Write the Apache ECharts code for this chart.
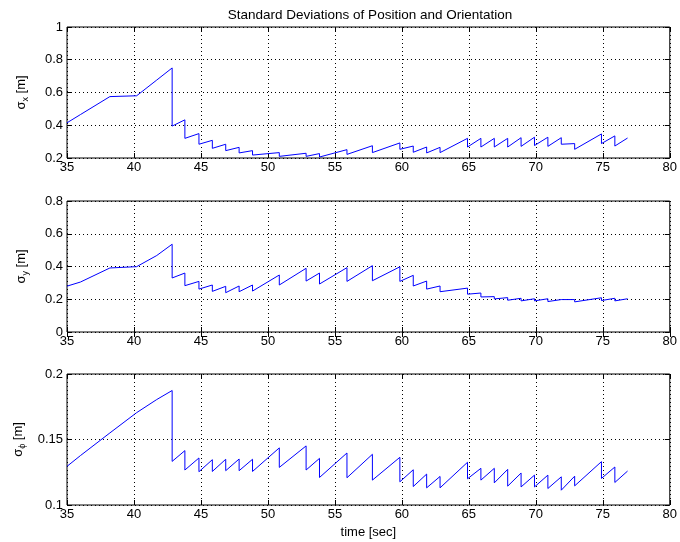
<!DOCTYPE html>
<html>
<head>
<meta charset="utf-8">
<script src="https://cdn.jsdelivr.net/npm/echarts@6/dist/echarts.min.js"></script>
<style>
  html, body { margin: 0; padding: 0; background: #fff; }
  #chart { width: 680px; height: 542px; }
</style>
</head>
<body>
<div id="chart"></div>
<script>
// shared time stamps (duplicated where the filter resets -> vertical drop)
const time = [35, 36, 38.2, 40.2, 41.7,
  42.85, 42.85, 43.8, 43.8, 44.85, 44.85, 45.85, 45.85, 46.85, 46.85,
  47.85, 47.85, 48.85, 48.85, 50.85, 50.85, 52.85, 52.85, 53.85, 53.85,
  55.9, 55.9, 57.8, 57.8, 59.85, 59.85, 60.85, 60.85, 61.85, 61.85,
  62.85, 62.85, 64.9, 64.9, 65.9, 65.9, 66.9, 66.9, 67.9, 67.9,
  68.9, 68.9, 69.9, 69.9, 70.9, 70.9, 71.9, 71.9, 72.9, 72.9,
  74.9, 74.9, 75.9, 75.9, 76.85]

const sigmaX = [0.415, 0.465, 0.575, 0.58, 0.676,
  0.75, 0.395, 0.433, 0.32, 0.349, 0.284, 0.308, 0.259, 0.284, 0.245,
  0.265, 0.231, 0.245, 0.218, 0.233, 0.21, 0.229, 0.21, 0.227, 0.206,
  0.251, 0.222, 0.275, 0.233, 0.292, 0.253, 0.273, 0.235, 0.267, 0.231,
  0.265, 0.233, 0.32, 0.267, 0.32, 0.267, 0.32, 0.267, 0.32, 0.267,
  0.324, 0.271, 0.327, 0.276, 0.327, 0.271, 0.324, 0.284, 0.288, 0.253,
  0.347, 0.288, 0.335, 0.273, 0.322]

const sigmaY = [0.28, 0.305, 0.391, 0.399, 0.467,
  0.536, 0.330, 0.360, 0.283, 0.309, 0.262, 0.287, 0.248, 0.279, 0.240,
  0.281, 0.246, 0.287, 0.250, 0.348, 0.287, 0.389, 0.311, 0.360, 0.293,
  0.393, 0.309, 0.405, 0.313, 0.398, 0.309, 0.346, 0.281, 0.311, 0.262,
  0.281, 0.246, 0.268, 0.231, 0.238, 0.214, 0.216, 0.202, 0.210, 0.194,
  0.206, 0.190, 0.203, 0.190, 0.203, 0.186, 0.198, 0.186, 0.198, 0.184,
  0.209, 0.192, 0.206, 0.190, 0.203]

const sigmaPhi = [0.1295, 0.1377, 0.155, 0.1705, 0.1805,
  0.1874, 0.1333, 0.1415, 0.1267, 0.1359, 0.1254, 0.1346, 0.1256, 0.1349, 0.1262,
  0.1351, 0.1262, 0.1349, 0.1256, 0.1436, 0.1287, 0.1451, 0.1267, 0.1356, 0.1210,
  0.1397, 0.1208, 0.1387, 0.119, 0.1364, 0.1177, 0.1269, 0.1141, 0.1236, 0.1131,
  0.1218, 0.1131, 0.1326, 0.120, 0.128, 0.119, 0.128, 0.1169, 0.1272, 0.1144,
  0.1244, 0.1138, 0.1228, 0.1138, 0.1228, 0.1126, 0.1215, 0.1113, 0.122, 0.1146,
  0.1331, 0.1203, 0.129, 0.1172, 0.1259]

const xTicks = {min: 35, max: 80, interval: 5}
const yRanges = [
  {min: 0.2, max: 1, interval: 0.2},
  {min: 0, max: 0.8, interval: 0.2},
  {min: 0.1, max: 0.2, interval: 0.05}
]
const yNames = ['{a|σ}{s|x}{a| [m]}', '{a|σ}{s|y}{a| [m]}', '{a|σ}{s|ϕ}{a| [m]}']
const seriesData = [sigmaX, sigmaY, sigmaPhi]

const font = 'Liberation Sans, Arial, Helvetica, sans-serif'
const tops = [27, 201, 374]

const grids = tops.map(t => ({
  left: 67, width: 605, top: t, height: 131,
  show: true, borderColor: '#000', borderWidth: 1, backgroundColor: 'transparent'
}))

const xAxes = []
const yAxes = []
const series = []
for (let i = 0; i < 3; i++) {
  xAxes.push({
    type: 'value', gridIndex: i, ...xTicks,
    name: i === 2 ? 'time [sec]' : '',
    nameLocation: 'middle', nameGap: 21,
    nameTextStyle: {color: '#000', fontSize: 13, fontFamily: font},
    axisLine: {show: false},
    axisTick: {show: true, inside: true, length: 5, lineStyle: {color: '#000'}},
    axisLabel: {color: '#000', fontSize: 13, fontFamily: font, margin: 3},
    splitLine: {show: true, lineStyle: {color: '#000', type: [1, 3], width: 1}}
  })
  xAxes.push({
    type: 'value', gridIndex: i, ...xTicks, position: 'top',
    axisLine: {show: false},
    axisTick: {show: true, inside: true, length: 5, lineStyle: {color: '#000'}},
    axisLabel: {show: false}, splitLine: {show: false}
  })
  yAxes.push({
    type: 'value', gridIndex: i, ...yRanges[i],
    name: yNames[i], nameLocation: 'middle', nameGap: 37, nameRotate: 90,
    nameTextStyle: {
      color: '#000', fontFamily: font,
      rich: {
        a: {fontSize: 13, fontFamily: font, color: '#000'},
        s: {fontSize: 9, fontFamily: font, color: '#000', padding: [8, 0, 0, 0]}
      }
    },
    axisLine: {show: false},
    axisTick: {show: true, inside: true, length: 5, lineStyle: {color: '#000'}},
    axisLabel: {color: '#000', fontSize: 13, fontFamily: font, margin: 4},
    splitLine: {show: true, lineStyle: {color: '#000', type: [1, 3], width: 1}}
  })
  yAxes.push({
    type: 'value', gridIndex: i, ...yRanges[i], position: 'right',
    axisLine: {show: false},
    axisTick: {show: true, inside: true, length: 5, lineStyle: {color: '#000'}},
    axisLabel: {show: false}, splitLine: {show: false}
  })
  series.push({
    type: 'line', xAxisIndex: i * 2, yAxisIndex: i * 2,
    data: time.map((t, k) => [t, seriesData[i][k]]),
    showSymbol: false, symbol: 'none', animation: false,
    lineStyle: {color: '#0000ff', width: 1}
  })
}

const option = {
  backgroundColor: '#fff',
  animation: false,
  title: {
    text: 'Standard Deviations of Position and Orientation',
    left: 365, top: 3, textAlign: 'center',
    textStyle: {color: '#000', fontSize: 13.5, fontWeight: 'normal', fontFamily: font}
  },
  grid: grids,
  xAxis: xAxes,
  yAxis: yAxes,
  series: series
}

const myChart = echarts.init(document.getElementById('chart'))
myChart.setOption(option)
</script>
</body>
</html>
